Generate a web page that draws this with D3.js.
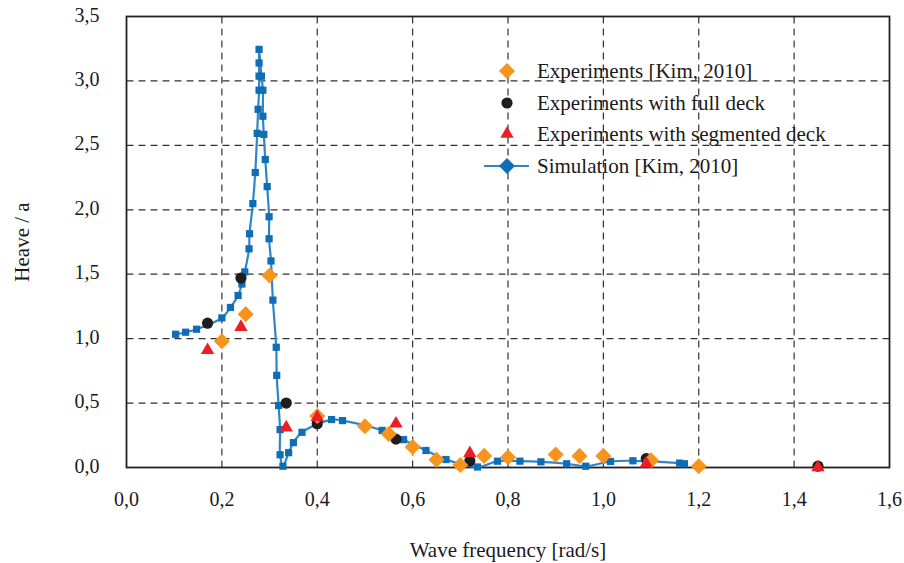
<!DOCTYPE html>
<html>
<head>
<meta charset="utf-8">
<script src="https://cdn.jsdelivr.net/npm/d3@7"></script>
<style>
  body { margin: 0; background: #fff; }
  svg text { font-family: "Liberation Serif", "Times New Roman", serif; fill: #1a1a1a; }
</style>
</head>
<body>
<div id="chart"></div>
<script>
// Experiments [Kim, 2010]
var kimFreq = [0.2, 0.25, 0.3, 0.4, 0.5, 0.55, 0.6, 0.65, 0.7, 0.75, 0.8, 0.9, 0.95, 1.0, 1.1, 1.2];
var kimHeave = [0.98, 1.19, 1.49, 0.40, 0.32, 0.26, 0.16, 0.06, 0.02, 0.09, 0.08, 0.10, 0.09, 0.09, 0.055, 0.01];

// experiments with full / segmented deck (same frequencies)
var deckFreq = [0.17, 0.24, 0.335, 0.40, 0.565, 0.72, 1.09, 1.45];
var fullHeave = [1.12, 1.47, 0.50, 0.34, 0.22, 0.05, 0.07, 0.01];
var segHeave = [0.91, 1.09, 0.31, 0.39, 0.34, 0.11, 0.03, 0.0];

// Simulation [Kim, 2010]
var simFreq = [0.103, 0.124, 0.147, 0.200, 0.218, 0.234, 0.242, 0.248, 0.257, 0.258,
  0.265, 0.270, 0.274, 0.276, 0.278, 0.278, 0.278, 0.278, 0.283, 0.286,
  0.286, 0.288, 0.291, 0.295, 0.299, 0.299, 0.303, 0.307, 0.314, 0.315,
  0.319, 0.322, 0.322, 0.328, 0.340, 0.350, 0.368, 0.430, 0.453, 0.536,
  0.581, 0.628, 0.670, 0.736, 0.778, 0.825, 0.869, 0.923, 0.963, 1.015,
  1.062, 1.160, 1.170];
var simHeave = [1.034, 1.050, 1.073, 1.161, 1.242, 1.335, 1.424, 1.518, 1.697, 1.814,
  2.048, 2.289, 2.593, 2.780, 2.928, 3.037, 3.139, 3.245, 3.037, 2.928,
  2.726, 2.585, 2.390, 2.180, 1.946, 1.775, 1.603, 1.299, 0.933, 0.715,
  0.481, 0.294, 0.099, 0.010, 0.115, 0.193, 0.273, 0.372, 0.364, 0.288,
  0.216, 0.132, 0.062, 0.004, 0.049, 0.049, 0.044, 0.029, 0.010, 0.047,
  0.052, 0.034, 0.029];

var xTicks = [0, 0.2, 0.4, 0.6, 0.8, 1.0, 1.2, 1.4, 1.6];
var yTicks = [0, 0.5, 1.0, 1.5, 2.0, 2.5, 3.0, 3.5];

var legendLabels = ["Experiments [Kim, 2010]", "Experiments with full deck",
  "Experiments with segmented deck", "Simulation [Kim, 2010]"];

(function() {
var W = 904, H = 563;
var pL = 126.5, pR = 889.5, pT = 16.5, pB = 467.5;

var orange = "#F7941D", dark = "#1e1e1e", red = "#EE1C25",
    blueSq = "#0F6DB4", blueLine = "#2F85C8";

var svg = d3.select("#chart").append("svg").attr("width", W).attr("height", H);

var x = d3.scaleLinear().domain([0, 1.6]).range([pL, pR]);
var y = d3.scaleLinear().domain([0, 3.5]).range([pB, pT]);
var fmt = function(d) { return d3.format(".1f")(d).replace(".", ","); };

// grid
svg.append("g").selectAll("line")
  .data(xTicks.slice(1, -1)).enter().append("line")
  .attr("x1", x).attr("x2", x).attr("y1", pT).attr("y2", pB)
  .attr("stroke", "#333").attr("stroke-width", 1.2).attr("stroke-dasharray", "7,5");
svg.append("g").selectAll("line")
  .data(yTicks.slice(1, -1)).enter().append("line")
  .attr("x1", pL).attr("x2", pR).attr("y1", y).attr("y2", y)
  .attr("stroke", "#333").attr("stroke-width", 1.2).attr("stroke-dasharray", "7,5");

// frame
svg.append("rect").attr("x", pL).attr("y", pT)
  .attr("width", pR - pL).attr("height", pB - pT)
  .attr("fill", "none").attr("stroke", "#222").attr("stroke-width", 1.8);

// tick labels
svg.append("g").selectAll("text").data(xTicks).enter().append("text")
  .attr("x", x).attr("y", pB + 38).attr("text-anchor", "middle")
  .style("font-size", "20px").text(fmt);
svg.append("g").selectAll("text").data(yTicks).enter().append("text")
  .attr("x", pL - 27).attr("y", function(d) { return y(d) + 5; })
  .attr("text-anchor", "end").style("font-size", "20px").text(fmt);

// axis titles
svg.append("text").attr("x", 508).attr("y", 557).attr("text-anchor", "middle")
  .style("font-size", "21px").text("Wave frequency [rad/s]");
svg.append("text").attr("transform", "translate(29,242) rotate(-90)")
  .attr("text-anchor", "middle").style("font-size", "21px").text("Heave / a");

// simulation line + squares
var sim = simFreq.map(function(f, i) { return [f, simHeave[i]]; });
var line = d3.line().x(function(d) { return x(d[0]); }).y(function(d) { return y(d[1]); })
  .curve(d3.curveCatmullRom.alpha(0.5));
svg.append("path").datum(sim).attr("d", line)
  .attr("fill", "none").attr("stroke", blueLine).attr("stroke-width", 2.2);
svg.append("g").selectAll("rect").data(sim).enter().append("rect")
  .attr("x", function(d) { return x(d[0]) - 3.6; })
  .attr("y", function(d) { return y(d[1]) - 3.6; })
  .attr("width", 7.2).attr("height", 7.2).attr("fill", blueSq);

var diamond = d3.symbol().type(d3.symbolDiamond2).size(165);
var tri = d3.symbol().type(d3.symbolTriangle).size(78);

// full deck circles
svg.append("g").selectAll("circle").data(deckFreq).enter().append("circle")
  .attr("cx", x).attr("cy", function(d, i) { return y(fullHeave[i]); })
  .attr("r", 5.6).attr("fill", dark);

// Kim experiments diamonds
svg.append("g").selectAll("path").data(kimFreq).enter().append("path")
  .attr("transform", function(d, i) { return "translate(" + x(d) + "," + y(kimHeave[i]) + ")"; })
  .attr("d", diamond).attr("fill", orange);

// segmented deck triangles
svg.append("g").selectAll("path").data(deckFreq).enter().append("path")
  .attr("transform", function(d, i) { return "translate(" + x(d) + "," + y(segHeave[i]) + ")"; })
  .attr("d", tri).attr("fill", red);

// legend
var lg = svg.append("g");
var rowY = [71, 103, 134, 166];
var lx = 507;
lg.append("path").attr("transform", "translate(" + lx + "," + rowY[0] + ")")
  .attr("d", diamond()).attr("fill", orange);
lg.append("circle").attr("cx", lx).attr("cy", rowY[1]).attr("r", 5.6).attr("fill", dark);
lg.append("path").attr("transform", "translate(" + lx + "," + rowY[2] + ")")
  .attr("d", tri()).attr("fill", red);
lg.append("line").attr("x1", 484).attr("x2", 529).attr("y1", rowY[3]).attr("y2", rowY[3])
  .attr("stroke", blueLine).attr("stroke-width", 2.2);
lg.append("path").attr("transform", "translate(" + lx + "," + rowY[3] + ")")
  .attr("d", diamond()).attr("fill", blueSq);
lg.selectAll("text").data(legendLabels).enter().append("text")
  .attr("x", 537).attr("y", function(d, i) { return rowY[i] + 7; })
  .style("font-size", "21px").text(function(d) { return d; });
})();
</script>
</body>
</html>
